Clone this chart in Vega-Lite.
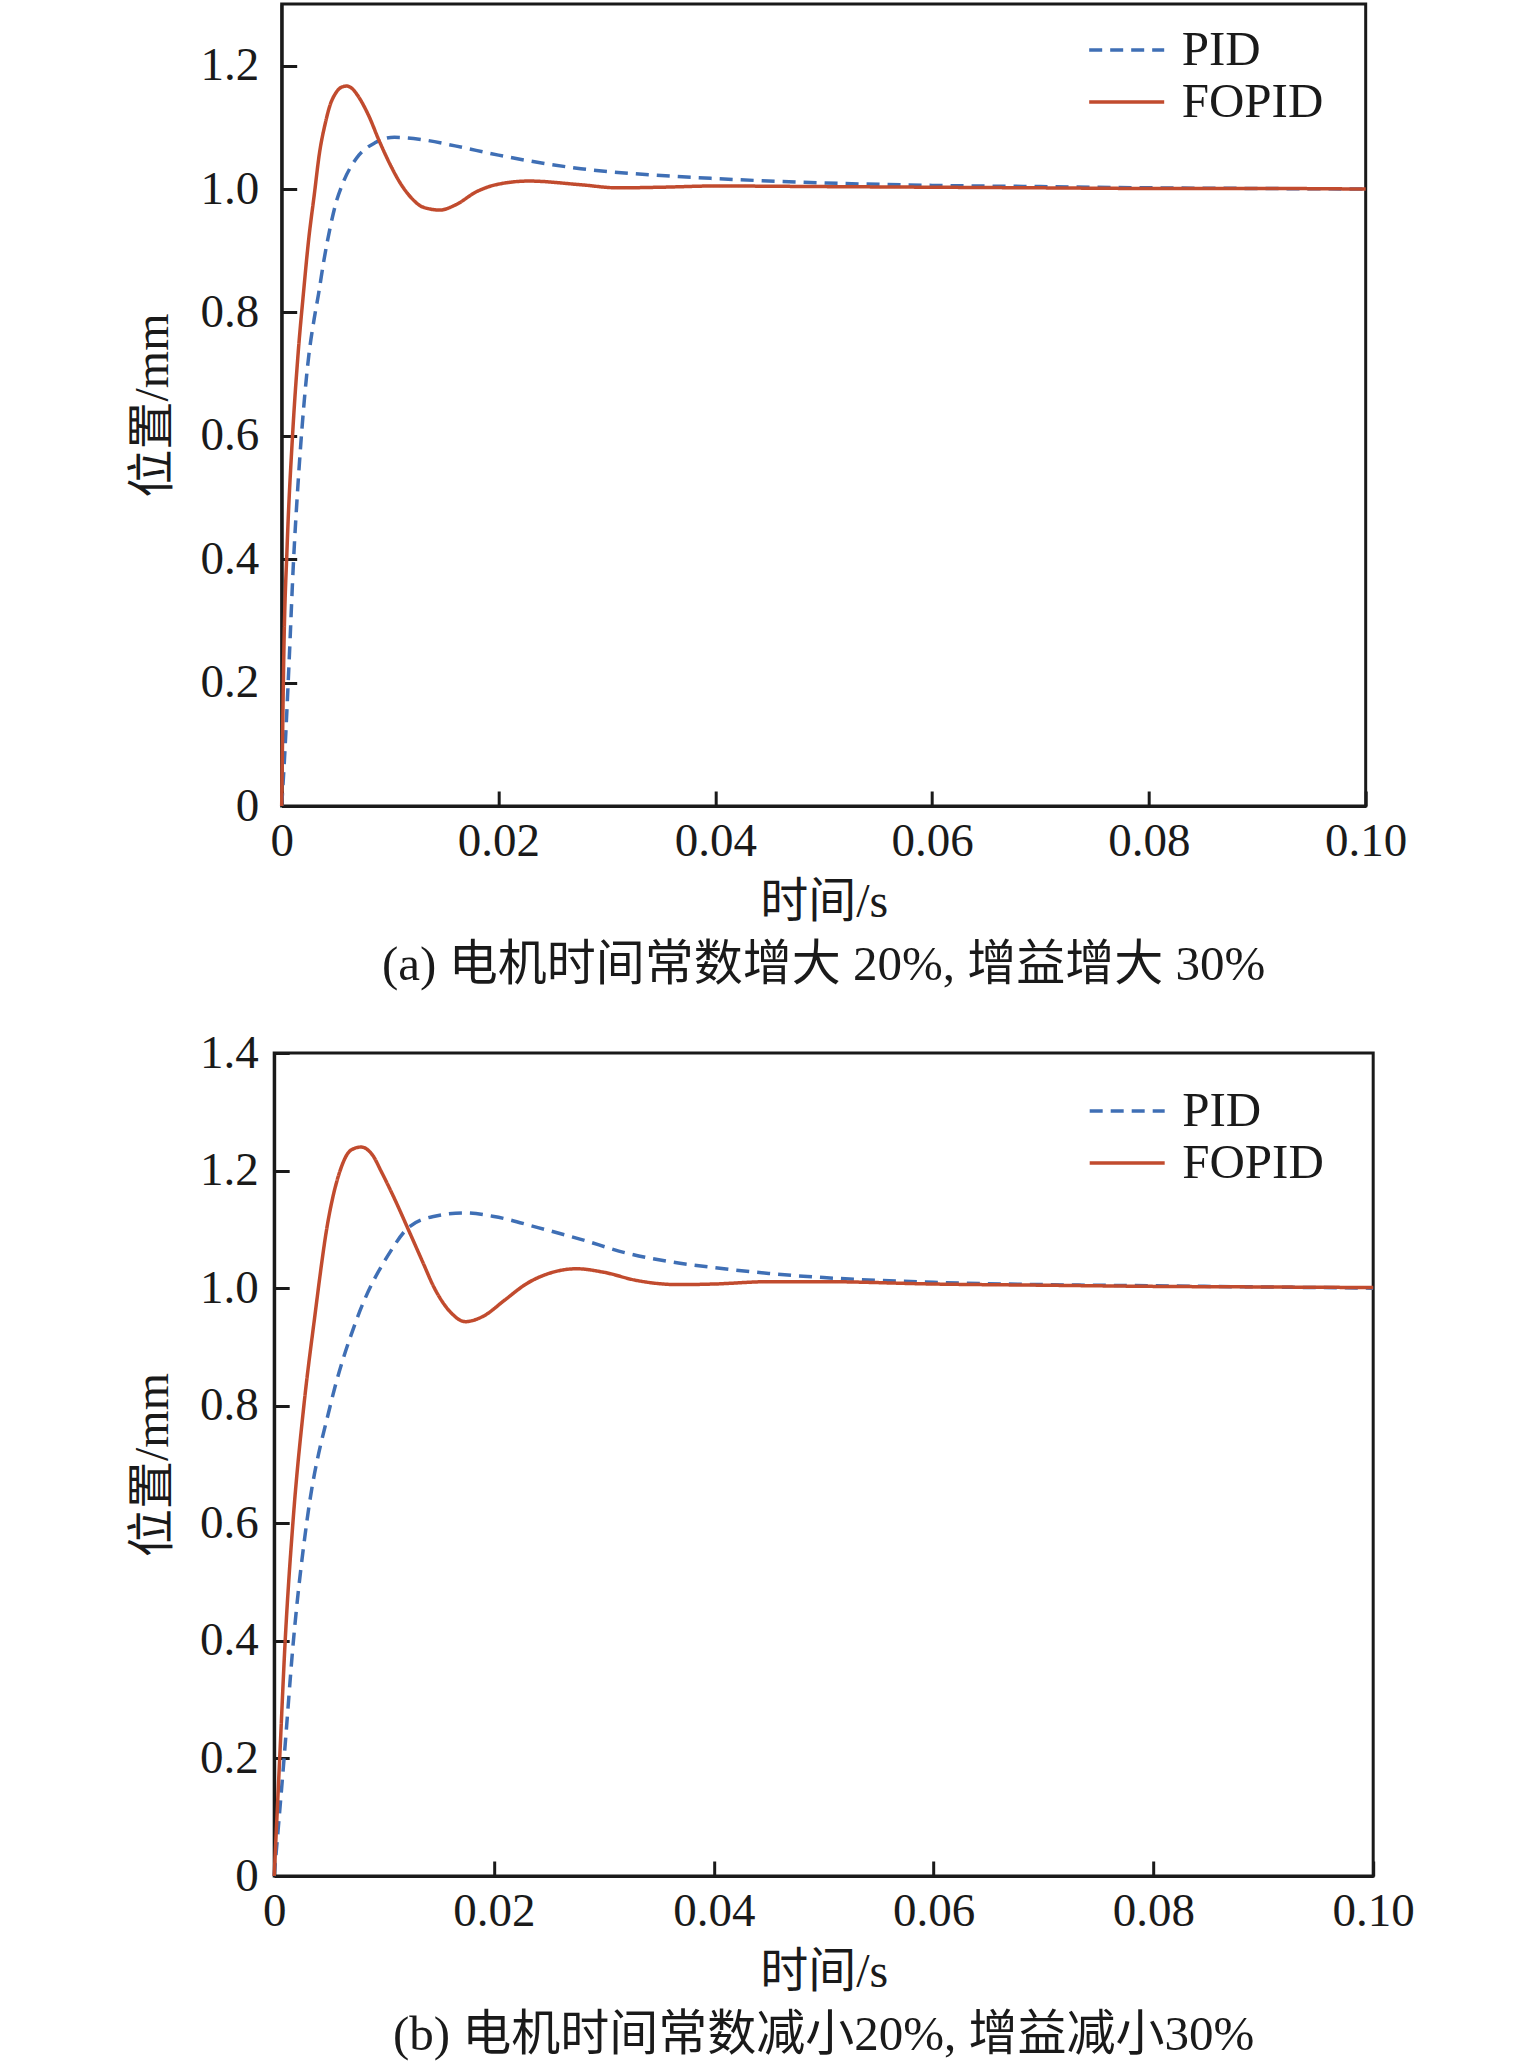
{
  "$schema": "https://vega.github.io/schema/vega-lite/v6.json",
  "padding": {"left": 127, "top": 2, "right": 0, "bottom": 0},
  "background": "white",
  "spacing": 35,
  "center": true,
  "config": {
    "font": "Liberation Serif",
    "view": {"stroke": "#1a1a1a", "strokeWidth": 3},
    "axis": {
      "labelFont": "Liberation Serif", "labelFontSize": 47, "labelColor": "#1a1a1a",
      "titleFont": "Liberation Serif, Noto Sans CJK SC", "titleFontSize": 48, "titleFontWeight": "normal", "titleColor": "#1a1a1a",
      "domainColor": "#1a1a1a", "domainWidth": 3, "tickColor": "#1a1a1a", "tickWidth": 3, "tickSize": -15, "grid": false
    },
    "legend": {
      "orient": "none", "labelFont": "Liberation Serif", "labelFontSize": 49, "labelColor": "#1a1a1a",
      "symbolType": "M -1.5 0 H 1.5", "symbolSize": 2500, "symbolStrokeWidth": 3.5,
      "labelOffset": 28, "rowPadding": 0, "padding": 0
    },
    "title": {"font": "Liberation Serif, Noto Sans CJK SC", "fontSize": 49, "fontWeight": "normal", "color": "#1a1a1a", "orient": "bottom", "anchor": "middle"}
  },
  "datasets": {
    "a": [
      {"series": "PID", "t": 0, "v": 0},
      {"series": "PID", "t": 0.0003, "v": 0.09},
      {"series": "PID", "t": 0.00065, "v": 0.22},
      {"series": "PID", "t": 0.0011, "v": 0.4},
      {"series": "PID", "t": 0.0015, "v": 0.52},
      {"series": "PID", "t": 0.002, "v": 0.64},
      {"series": "PID", "t": 0.0025, "v": 0.73},
      {"series": "PID", "t": 0.003, "v": 0.79},
      {"series": "PID", "t": 0.0034, "v": 0.83},
      {"series": "PID", "t": 0.0039, "v": 0.885},
      {"series": "PID", "t": 0.0045, "v": 0.94},
      {"series": "PID", "t": 0.005, "v": 0.977},
      {"series": "PID", "t": 0.0057, "v": 1.012},
      {"series": "PID", "t": 0.0069, "v": 1.05},
      {"series": "PID", "t": 0.0086, "v": 1.075},
      {"series": "PID", "t": 0.0104, "v": 1.084},
      {"series": "PID", "t": 0.013, "v": 1.08},
      {"series": "PID", "t": 0.016, "v": 1.07},
      {"series": "PID", "t": 0.02, "v": 1.055},
      {"series": "PID", "t": 0.0276, "v": 1.033},
      {"series": "PID", "t": 0.035, "v": 1.022},
      {"series": "PID", "t": 0.04, "v": 1.017},
      {"series": "PID", "t": 0.05, "v": 1.01},
      {"series": "PID", "t": 0.06, "v": 1.006},
      {"series": "PID", "t": 0.07, "v": 1.004},
      {"series": "PID", "t": 0.08, "v": 1.002},
      {"series": "PID", "t": 0.09, "v": 1.001},
      {"series": "PID", "t": 0.1, "v": 1.0},
      {"series": "FOPID", "t": 0, "v": 0},
      {"series": "FOPID", "t": 0.0002, "v": 0.25},
      {"series": "FOPID", "t": 0.0005, "v": 0.42},
      {"series": "FOPID", "t": 0.001, "v": 0.6},
      {"series": "FOPID", "t": 0.0015, "v": 0.73},
      {"series": "FOPID", "t": 0.002, "v": 0.83},
      {"series": "FOPID", "t": 0.0025, "v": 0.92},
      {"series": "FOPID", "t": 0.003, "v": 0.99},
      {"series": "FOPID", "t": 0.0035, "v": 1.06},
      {"series": "FOPID", "t": 0.004, "v": 1.105},
      {"series": "FOPID", "t": 0.0045, "v": 1.138},
      {"series": "FOPID", "t": 0.005, "v": 1.156},
      {"series": "FOPID", "t": 0.0055, "v": 1.165},
      {"series": "FOPID", "t": 0.006, "v": 1.167},
      {"series": "FOPID", "t": 0.0065, "v": 1.163},
      {"series": "FOPID", "t": 0.007, "v": 1.152},
      {"series": "FOPID", "t": 0.008, "v": 1.12},
      {"series": "FOPID", "t": 0.009, "v": 1.078},
      {"series": "FOPID", "t": 0.01, "v": 1.04},
      {"series": "FOPID", "t": 0.011, "v": 1.008},
      {"series": "FOPID", "t": 0.012, "v": 0.985},
      {"series": "FOPID", "t": 0.013, "v": 0.971},
      {"series": "FOPID", "t": 0.0146, "v": 0.966},
      {"series": "FOPID", "t": 0.016, "v": 0.974},
      {"series": "FOPID", "t": 0.018, "v": 0.996},
      {"series": "FOPID", "t": 0.02, "v": 1.008},
      {"series": "FOPID", "t": 0.0228, "v": 1.013},
      {"series": "FOPID", "t": 0.0276, "v": 1.007},
      {"series": "FOPID", "t": 0.031, "v": 1.002},
      {"series": "FOPID", "t": 0.035, "v": 1.003},
      {"series": "FOPID", "t": 0.04, "v": 1.005},
      {"series": "FOPID", "t": 0.05, "v": 1.004},
      {"series": "FOPID", "t": 0.06, "v": 1.003},
      {"series": "FOPID", "t": 0.07, "v": 1.002},
      {"series": "FOPID", "t": 0.08, "v": 1.001},
      {"series": "FOPID", "t": 0.09, "v": 1.001},
      {"series": "FOPID", "t": 0.1, "v": 1.0}
    ],
    "b": [
      {"series": "PID", "t": 0, "v": 0},
      {"series": "PID", "t": 0.0009, "v": 0.2},
      {"series": "PID", "t": 0.00175, "v": 0.4},
      {"series": "PID", "t": 0.00295, "v": 0.6},
      {"series": "PID", "t": 0.0051, "v": 0.8},
      {"series": "PID", "t": 0.00745, "v": 0.944},
      {"series": "PID", "t": 0.0106, "v": 1.063},
      {"series": "PID", "t": 0.01215, "v": 1.102},
      {"series": "PID", "t": 0.0145, "v": 1.122},
      {"series": "PID", "t": 0.0173, "v": 1.128},
      {"series": "PID", "t": 0.02, "v": 1.122},
      {"series": "PID", "t": 0.024, "v": 1.103},
      {"series": "PID", "t": 0.0279, "v": 1.083},
      {"series": "PID", "t": 0.032, "v": 1.06},
      {"series": "PID", "t": 0.036, "v": 1.045},
      {"series": "PID", "t": 0.04, "v": 1.035},
      {"series": "PID", "t": 0.045, "v": 1.025},
      {"series": "PID", "t": 0.05, "v": 1.018},
      {"series": "PID", "t": 0.06, "v": 1.01},
      {"series": "PID", "t": 0.07, "v": 1.006},
      {"series": "PID", "t": 0.08, "v": 1.004},
      {"series": "PID", "t": 0.09, "v": 1.002},
      {"series": "PID", "t": 0.1, "v": 1.0},
      {"series": "FOPID", "t": 0, "v": 0},
      {"series": "FOPID", "t": 0.0005, "v": 0.2},
      {"series": "FOPID", "t": 0.001, "v": 0.4},
      {"series": "FOPID", "t": 0.0017, "v": 0.6},
      {"series": "FOPID", "t": 0.0027, "v": 0.8},
      {"series": "FOPID", "t": 0.00364, "v": 0.944},
      {"series": "FOPID", "t": 0.0049, "v": 1.114},
      {"series": "FOPID", "t": 0.006, "v": 1.2},
      {"series": "FOPID", "t": 0.007, "v": 1.235},
      {"series": "FOPID", "t": 0.0079, "v": 1.24},
      {"series": "FOPID", "t": 0.009, "v": 1.225},
      {"series": "FOPID", "t": 0.0097, "v": 1.2},
      {"series": "FOPID", "t": 0.011, "v": 1.15},
      {"series": "FOPID", "t": 0.01215, "v": 1.102},
      {"series": "FOPID", "t": 0.0135, "v": 1.045},
      {"series": "FOPID", "t": 0.01458, "v": 1.0},
      {"series": "FOPID", "t": 0.016, "v": 0.96},
      {"series": "FOPID", "t": 0.0174, "v": 0.943},
      {"series": "FOPID", "t": 0.019, "v": 0.952},
      {"series": "FOPID", "t": 0.021, "v": 0.98},
      {"series": "FOPID", "t": 0.023, "v": 1.008},
      {"series": "FOPID", "t": 0.025, "v": 1.025},
      {"series": "FOPID", "t": 0.0275, "v": 1.033},
      {"series": "FOPID", "t": 0.03, "v": 1.027},
      {"series": "FOPID", "t": 0.033, "v": 1.013},
      {"series": "FOPID", "t": 0.0368, "v": 1.006},
      {"series": "FOPID", "t": 0.04, "v": 1.007},
      {"series": "FOPID", "t": 0.045, "v": 1.011},
      {"series": "FOPID", "t": 0.05, "v": 1.011},
      {"series": "FOPID", "t": 0.06, "v": 1.007},
      {"series": "FOPID", "t": 0.07, "v": 1.005},
      {"series": "FOPID", "t": 0.08, "v": 1.003},
      {"series": "FOPID", "t": 0.09, "v": 1.002},
      {"series": "FOPID", "t": 0.1, "v": 1.001}
    ]
  },
  "vconcat": [
    {
      "width": 1084, "height": 802,
      "data": {"name": "a"},
      "title": {"text": "(a) 电机时间常数增大 20%, 增益增大 30%", "offset": 15},
      "encoding": {
        "x": {"field": "t", "type": "quantitative", "scale": {"domain": [0, 0.1], "nice": false},
          "axis": {"values": [0, 0.02, 0.04, 0.06, 0.08, 0.1], "labelExpr": "datum.value === 0 ? '0' : format(datum.value, '.2f')", "title": "时间/s", "labelPadding": 27, "titlePadding": 14, "labelFlush": false}},
        "y": {"field": "v", "type": "quantitative", "scale": {"domain": [0, 1.3], "nice": false},
          "axis": {"values": [0, 0.2, 0.4, 0.6, 0.8, 1.0, 1.2], "labelExpr": "datum.value === 0 ? '0' : format(datum.value, '.1f')", "title": "位置/mm", "labelPadding": 38, "titlePadding": 22, "labelFlush": false}},
        "color": {"field": "series", "type": "nominal", "scale": {"domain": ["PID", "FOPID"], "range": ["#3F6FB5", "#C14B2E"]},
          "legend": {"title": null, "legendX": 818, "legendY": 19}},
        "strokeDash": {"field": "series", "type": "nominal", "scale": {"domain": ["PID", "FOPID"], "range": [[13, 8], [1, 0]]},
          "legend": {"title": null, "legendX": 818, "legendY": 19}}
      },
      "layer": [
        {"transform": [{"filter": "datum.series === 'PID'"}], "mark": {"type": "line", "interpolate": "monotone", "strokeWidth": 3.5}},
        {"transform": [{"filter": "datum.series === 'FOPID'"}], "mark": {"type": "line", "interpolate": "monotone", "strokeWidth": 3.5}}
      ]
    },
    {
      "width": 1099, "height": 823,
      "data": {"name": "b"},
      "title": {"text": "(b) 电机时间常数减小20%, 增益减小30%", "offset": 15},
      "encoding": {
        "x": {"field": "t", "type": "quantitative", "scale": {"domain": [0, 0.1], "nice": false},
          "axis": {"values": [0, 0.02, 0.04, 0.06, 0.08, 0.1], "labelExpr": "datum.value === 0 ? '0' : format(datum.value, '.2f')", "title": "时间/s", "labelPadding": 27, "titlePadding": 14, "labelFlush": false}},
        "y": {"field": "v", "type": "quantitative", "scale": {"domain": [0, 1.4], "nice": false},
          "axis": {"values": [0, 0.2, 0.4, 0.6, 0.8, 1.0, 1.2, 1.4], "labelExpr": "datum.value === 0 ? '0' : format(datum.value, '.1f')", "title": "位置/mm", "labelPadding": 31, "titlePadding": 22, "labelFlush": false}},
        "color": {"field": "series", "type": "nominal", "scale": {"domain": ["PID", "FOPID"], "range": ["#3F6FB5", "#C14B2E"]},
          "legend": {"title": null, "legendX": 826, "legendY": 31}},
        "strokeDash": {"field": "series", "type": "nominal", "scale": {"domain": ["PID", "FOPID"], "range": [[13, 8], [1, 0]]},
          "legend": {"title": null, "legendX": 826, "legendY": 31}}
      },
      "layer": [
        {"transform": [{"filter": "datum.series === 'PID'"}], "mark": {"type": "line", "interpolate": "monotone", "strokeWidth": 3.5}},
        {"transform": [{"filter": "datum.series === 'FOPID'"}], "mark": {"type": "line", "interpolate": "monotone", "strokeWidth": 3.5}}
      ]
    }
  ],
  "resolve": {"scale": {"x": "independent", "y": "independent", "color": "independent", "strokeDash": "independent"}, "legend": {"color": "independent", "strokeDash": "independent"}}
}
